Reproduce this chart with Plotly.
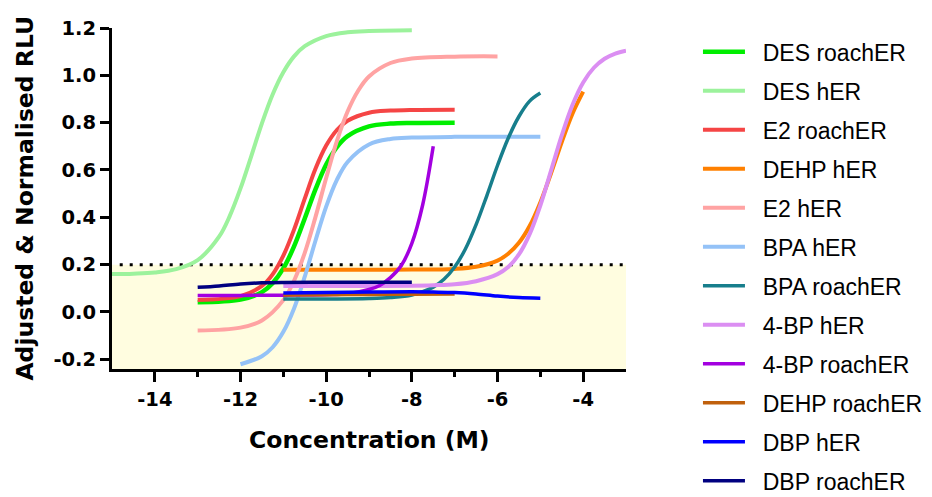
import plotly.graph_objects as go

# ---- dose-response curves, log10 concentration (M) vs adjusted & normalised RLU ----
des_roach_x = [-13, -12, -11.5, -11.25, -11, -10.75, -10.5, -10.25, -10, -9.75, -9.5, -9, -8.5, -8, -7]
des_roach_y = [0.041, 0.052, 0.084, 0.122, 0.184, 0.277, 0.395, 0.518, 0.623, 0.697, 0.743, 0.784, 0.796, 0.799, 0.800]

des_h_x = [-15, -14.5, -14, -13.5, -13, -12.5, -12.25, -12, -11.75, -11.5, -11.25, -11, -10.75, -10.5, -10, -9.5, -9, -8]
des_h_y = [0.160, 0.162, 0.167, 0.181, 0.219, 0.318, 0.406, 0.522, 0.658, 0.797, 0.919, 1.013, 1.080, 1.123, 1.166, 1.182, 1.187, 1.190]

e2_roach_x = [-13, -12, -11.5, -11.25, -11, -10.75, -10.5, -10.25, -10, -9.75, -9.5, -9, -8.5, -8, -7]
e2_roach_y = [0.051, 0.067, 0.110, 0.159, 0.238, 0.348, 0.479, 0.605, 0.703, 0.769, 0.808, 0.842, 0.851, 0.854, 0.855]

dehp_h_x = [-11, -10, -9, -8, -7, -6.5, -6, -5.75, -5.5, -5.25, -5, -4.75, -4.5, -4.25, -4]
dehp_h_y = [0.178, 0.178, 0.178, 0.179, 0.182, 0.191, 0.217, 0.246, 0.292, 0.363, 0.463, 0.586, 0.718, 0.838, 0.931]

e2_h_x = [-13, -12, -11.5, -11, -10.75, -10.5, -10.25, -10, -9.75, -9.5, -9.25, -9, -8.5, -8, -7, -6]
e2_h_y = [-0.078, -0.066, -0.036, 0.050, 0.132, 0.250, 0.401, 0.566, 0.722, 0.847, 0.936, 0.995, 1.052, 1.071, 1.079, 1.080]

bpa_h_x = [-12, -11.5, -11.25, -11, -10.75, -10.5, -10.25, -10, -9.75, -9.5, -9, -8.5, -8, -7, -6, -5]
bpa_h_y = [-0.221, -0.187, -0.149, -0.084, 0.015, 0.149, 0.301, 0.445, 0.558, 0.634, 0.708, 0.731, 0.737, 0.740, 0.740, 0.740]

bpa_roach_x = [-11, -10, -9, -8.5, -8, -7.5, -7.25, -7, -6.75, -6.5, -6.25, -6, -5.75, -5.5, -5.25, -5]
bpa_roach_y = [0.055, 0.055, 0.057, 0.061, 0.072, 0.105, 0.138, 0.190, 0.266, 0.369, 0.491, 0.619, 0.734, 0.826, 0.891, 0.925]

bp4_h_x = [-11, -10, -9, -8, -7.5, -7, -6.5, -6, -5.75, -5.5, -5.25, -5, -4.75, -4.5, -4.25, -4, -3.75, -3.5, -3.25, -3]
bp4_h_y = [0.110, 0.110, 0.110, 0.111, 0.113, 0.117, 0.130, 0.160, 0.190, 0.243, 0.329, 0.450, 0.597, 0.746, 0.875, 0.970, 1.032, 1.070, 1.092, 1.104]

bp4_roach_x = [-13, -12, -11, -10, -9.5, -9, -8.75, -8.5, -8.25, -8, -7.75, -7.5]
bp4_roach_y = [0.070, 0.070, 0.071, 0.073, 0.077, 0.095, 0.112, 0.145, 0.195, 0.290, 0.450, 0.700]

dehp_roach_x = [-11, -10, -9, -8, -7]
dehp_roach_y = [0.072, 0.073, 0.074, 0.075, 0.076]

dbp_h_x = [-11, -10, -9, -8, -7.5, -7, -6.5, -6, -5.5, -5]
dbp_h_y = [0.080, 0.082, 0.084, 0.085, 0.084, 0.082, 0.076, 0.067, 0.061, 0.058]

dbp_roach_x = [-13, -12.5, -12, -11.5, -11, -10, -9, -8]
dbp_roach_y = [0.104, 0.110, 0.118, 0.123, 0.125, 0.126, 0.126, 0.126]

# activity threshold (dotted line, shaded region beneath)
threshold = 0.2

x_ticks = [-14, -12, -10, -8, -6, -4]
x_tick_text = ["-14", "-12", "-10", "-8", "-6", "-4"]
x_minor_ticks = [-13, -11, -9, -7, -5]
y_ticks = [-0.2, 0.0, 0.2, 0.4, 0.6, 0.8, 1.0, 1.2]
y_tick_text = ["-0.2", "0.0", "0.2", "0.4", "0.6", "0.8", "1.0", "1.2"]

x_range = [-15, -3]
y_range = [-0.241, 1.2]

series = [
    ("DES roachER", des_roach_x, des_roach_y, "#00EE00", 4.5),
    ("DES hER", des_h_x, des_h_y, "#9CF29C", 4),
    ("E2 roachER", e2_roach_x, e2_roach_y, "#F54545", 4),
    ("DEHP hER", dehp_h_x, dehp_h_y, "#FF8000", 4),
    ("E2 hER", e2_h_x, e2_h_y, "#FFA3A3", 4),
    ("BPA hER", bpa_h_x, bpa_h_y, "#94C2F7", 4),
    ("BPA roachER", bpa_roach_x, bpa_roach_y, "#177E8C", 3.5),
    ("4-BP hER", bp4_h_x, bp4_h_y, "#DB8EF2", 4),
    ("4-BP roachER", bp4_roach_x, bp4_roach_y, "#A300E0", 3.5),
    ("DEHP roachER", dehp_roach_x, dehp_roach_y, "#C0600C", 3.5),
    ("DBP hER", dbp_h_x, dbp_h_y, "#0000FF", 3.5),
    ("DBP roachER", dbp_roach_x, dbp_roach_y, "#000080", 3.5),
]

# non-breaking spaces widen the gap between legend swatch and label
label_pad = "\u00a0\u00a0"

fig = go.Figure()
for name, xs, ys, color, width in series:
    fig.add_trace(go.Scatter(
        x=xs, y=ys, name=label_pad + name, mode="lines",
        line=dict(color=color, width=width, shape="spline", smoothing=1.0),
        legendgroup=name,
    ))

# shaded band below the threshold and the dotted threshold line
fig.add_shape(type="rect", xref="paper", yref="y", x0=0, x1=1,
              y0=y_range[0], y1=threshold, fillcolor="#FFFDE0",
              line=dict(width=0), layer="below")
fig.add_shape(type="line", xref="paper", yref="y", x0=0.015, x1=1,
              y0=threshold, y1=threshold,
              line=dict(color="black", width=3, dash="3px,7px"), layer="below")

bold_font = dict(family="DejaVu Sans", size=19.5, color="black", weight="bold")
title_font = dict(family="DejaVu Sans", size=23.5, color="black", weight="bold")

fig.update_xaxes(
    range=x_range, showgrid=False, zeroline=False,
    showline=True, linecolor="black", linewidth=3,
    ticks="outside", ticklen=10, tickwidth=3, tickcolor="black",
    tickvals=x_ticks, ticktext=x_tick_text, tickfont=bold_font,
    ticklabelstandoff=1,
    minor=dict(tickvals=x_minor_ticks, ticks="outside", ticklen=5,
               tickwidth=3, tickcolor="black"),
)
fig.update_yaxes(
    range=y_range, showgrid=False, zeroline=False,
    showline=True, linecolor="black", linewidth=3,
    ticks="outside", ticklen=9, tickwidth=3, tickcolor="black",
    tickvals=y_ticks, ticktext=y_tick_text, tickfont=bold_font,
)

fig.add_annotation(text="Adjusted & Normalised RLU", xref="paper", yref="paper",
                   x=-0.171, y=0.5, xanchor="center", yanchor="middle",
                   textangle=-90, showarrow=False, font=title_font)
fig.add_annotation(text="Concentration (M)", xref="paper", yref="paper",
                   x=0.5, y=-0.208, xanchor="center", yanchor="middle",
                   showarrow=False, font=title_font)

fig.update_layout(
    width=932, height=497,
    margin=dict(l=112, r=306, t=28, b=128, autoexpand=False),
    plot_bgcolor="white", paper_bgcolor="white",
    legend=dict(
        x=1.14, y=0.993, xanchor="left", yanchor="top",
        font=dict(family="Liberation Sans, Arial", size=23, color="black"),
        traceorder="grouped", tracegroupgap=6.1, itemwidth=42,
        maxheight=490,
        bgcolor="rgba(0,0,0,0)",
    ),
)

fig.write_html("out.html")
